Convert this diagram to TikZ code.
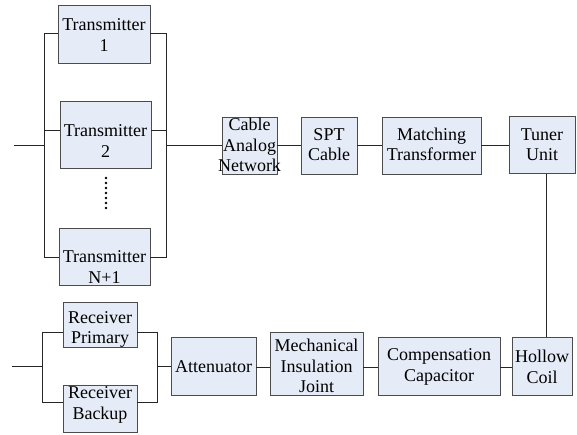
\documentclass[tikz,border=0pt]{standalone}
\usepackage{fontspec}
\setmainfont{Liberation Serif}
\definecolor{boxfill}{HTML}{E6ECF7}
\tikzset{
  blk/.style={draw=black!70, fill=boxfill, line width=0.9pt, inner sep=0pt, outer sep=0pt},
  txt/.style={align=center, font=\fontsize{18}{20.5}\selectfont, inner sep=0pt},
  wire/.style={line width=0.9pt, draw=black!85}
}
\newcommand\blkbox[7]{%
  \node[blk, minimum width=#4pt, minimum height=#5pt] (#1) at (#2,#3) {};
  \node[txt] (#1t) at (#2,#7) {#6};
}
\begin{document}
\begin{tikzpicture}[x=1pt,y=-1pt]
\useasboundingbox (0,0) rectangle (577,434);
% coordinates of buses
\coordinate (TLa) at (44,33);
\coordinate (TLb) at (44,130);
\coordinate (TLc) at (44,257);
\coordinate (TLin) at (44,145);
\coordinate (TIN) at (14,145);
\coordinate (TRa) at (166,33);
\coordinate (TRb) at (166,130);
\coordinate (TRc) at (166,257);
\coordinate (TRout) at (166,145);
\coordinate (RLa) at (42,332);
\coordinate (RLb) at (42,402);
\coordinate (RLin) at (42,366);
\coordinate (RIN) at (12,366);
\coordinate (RRa) at (157,332);
\coordinate (RRb) at (157,402);
\coordinate (RRout) at (157,366);
\coordinate (VT) at (546,173.5);
\coordinate (VB) at (546,337);
% transmitters
\blkbox{T1}{104}{34}{92}{58}{Transmitter\\1}{35}
\blkbox{T2}{105.5}{134.5}{91}{67}{Transmitter\\2}{141}
\blkbox{TN}{104.5}{256.5}{91}{57}{Transmitter\\N+1}{267}
% top chain
\blkbox{CAN}{249.5}{145.5}{55}{57}{Cable\\Analog\\Network}{145}
\blkbox{SPT}{329}{145.5}{56}{57}{SPT\\Cable}{144.5}
\blkbox{MT}{431.5}{145.5}{99}{57}{Matching\\Transformer}{144.5}
\blkbox{TU}{542}{145}{66}{57}{Tuner\\Unit}{144.5}
% receivers
\blkbox{RP}{100}{324.5}{74}{45}{Receiver\\Primary}{329.5}
\blkbox{RB}{100}{408.5}{74}{47}{Receiver\\Backup}{405}
% bottom chain
\blkbox{ATT}{213.5}{366}{85}{58}{Attenuator}{367}
\blkbox{MIJ}{316.5}{363.5}{93}{63}{Mechanical\\Insulation\\Joint}{366}
\blkbox{CC}{439}{366}{122}{58}{Compensation\\Capacitor}{367}
\blkbox{HC}{542}{366}{60}{58}{Hollow\\Coil}{367}
% dots
\foreach \k in {0,...,6} \fill (106,178+5*\k) circle (1.3);
% transmitter buses
\draw[wire] (T1.west |- TLa) -- (TLa) -- (TLc) -- (TN.west |- TLc);
\draw[wire] (TLb) -- (T2.west |- TLb);
\draw[wire] (TIN) -- (TLin);
\draw[wire] (T1.east |- TRa) -- (TRa) -- (TRc) -- (TN.east |- TRc);
\draw[wire] (TRb) -- (T2.east |- TRb);
\draw[wire] (TRout) -- (CAN.west |- TRout);
% top chain
\draw[wire] (CAN.east |- TRout) -- (SPT.west |- TRout);
\draw[wire] (SPT.east |- TRout) -- (MT.west |- TRout);
\draw[wire] (MT.east |- TRout) -- (TU.west |- TRout);
\draw[wire] (VT) -- (VB);
% receiver buses
\draw[wire] (RP.west |- RLa) -- (RLa) -- (RLb) -- (RB.west |- RLb);
\draw[wire] (RIN) -- (RLin);
\draw[wire] (RP.east |- RRa) -- (RRa) -- (RRb) -- (RB.east |- RRb);
\draw[wire] (RRout) -- (ATT.west |- RRout);
% bottom chain
\draw[wire] (ATT.east |- 0,367) -- (MIJ.west |- 0,367);
\draw[wire] (MIJ.east |- 0,367) -- (CC.west |- 0,367);
\draw[wire] (CC.east |- 0,367) -- (HC.west |- 0,367);
\end{tikzpicture}
\end{document}
